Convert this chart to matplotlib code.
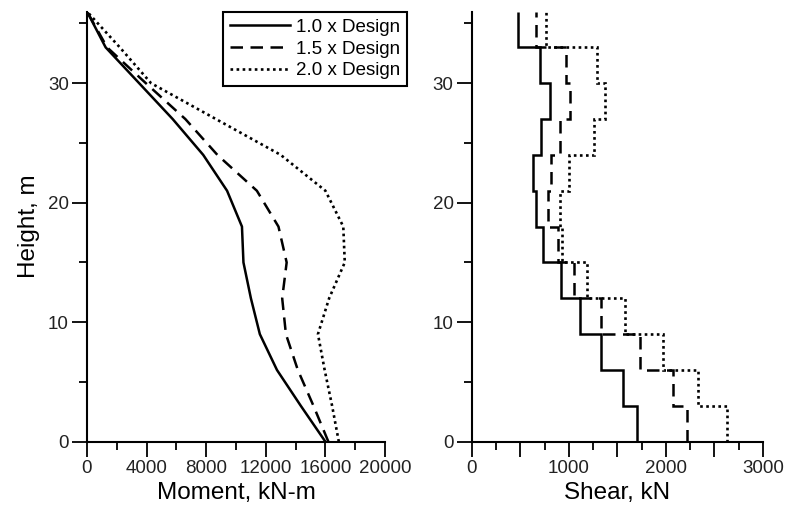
import matplotlib
matplotlib.use("Agg")
import matplotlib.pyplot as plt
import numpy as np

plt.rcParams['font.family'] = ['Liberation Sans', 'DejaVu Sans']

# Data
heights = [0, 3, 6, 9, 12, 15, 18, 21, 24, 27, 30, 33, 36]
moment_10 = [16000, 14350, 12750, 11600, 11000, 10500, 10400, 9400, 7800, 5750, 3500, 1250, 0]
moment_15 = [16200, 15200, 14150, 13350, 13100, 13400, 12850, 11400, 8750, 6600, 3950, 1350, 0]
moment_20 = [16900, 16450, 15950, 15500, 16250, 17300, 17200, 16000, 13000, 8650, 4300, 2200, 0]

# Story shear (story 1 at bottom ... story 12 at top)
shear_10 = [1700, 1560, 1330, 1120, 915, 730, 660, 630, 710, 805, 700, 475]
shear_15 = [2215, 2070, 1730, 1330, 1050, 885, 785, 815, 910, 1010, 970, 660]
shear_20 = [2630, 2330, 1965, 1575, 1185, 930, 905, 1000, 1260, 1370, 1290, 770]

labels = ['1.0 x Design', '1.5 x Design', '2.0 x Design']

W, H = 786, 513
fig = plt.figure(figsize=(W / 100, H / 100), dpi=100)

ax1 = fig.add_axes([87 / W, (H - 441.7) / H, 298 / W, 430.2 / H])
ax2 = fig.add_axes([471.7 / W, (H - 441.7) / H, 291.3 / W, 430.2 / H])

lw = 1.8
styles = [dict(color='black', lw=lw, linestyle='-'),
          dict(color='black', lw=lw, linestyle=(0, (5, 3))),
          dict(color='black', lw=1.9, linestyle=(0, (1, 1.3)))]

handles = []
for vals, st, lab in zip([moment_10, moment_15, moment_20], styles, labels):
    h, = ax1.plot(vals, heights, label=lab, **st)
    handles.append(h)

for vals, st in zip([shear_10, shear_15, shear_20], styles):
    ax2.stairs(vals, heights, orientation='horizontal', baseline=None, **st)

for ax in (ax1, ax2):
    ax.set_ylim(0, 36)
    ax.spines['top'].set_visible(False)
    ax.spines['right'].set_visible(False)
    ax.spines['left'].set_linewidth(1.5)
    ax.spines['bottom'].set_linewidth(1.5)
    ax.set_yticks([0, 10, 20, 30])
    ax.set_yticks([5, 15, 25, 35], minor=True)
    ax.tick_params(which='major', direction='out', length=11, width=1.3,
                   labelsize=13.5, pad=2)
    ax.tick_params(which='minor', direction='out', length=5.5, width=1.3)

ax1.set_xlim(0, 20000)
ax1.set_xticks([0, 4000, 8000, 12000, 16000, 20000])
ax1.set_xticks([2000, 6000, 10000, 14000, 18000], minor=True)
ax1.set_xlabel('Moment, kN-m', fontsize=17.5, labelpad=4)
ax1.set_ylabel('Height, m', fontsize=17.5, labelpad=6)

ax2.set_xlim(0, 3000)
ax2.set_xticks([0, 500, 1000, 1500, 2000, 2500, 3000])
ax2.set_xticklabels(['0', '', '1000', '', '2000', '', '3000'])
ax2.set_xticks([250, 750, 1250, 1750, 2250, 2750], minor=True)
ax2.set_xlabel('Shear, kN', fontsize=17.5, labelpad=4)

leg = fig.legend(handles=handles, labels=labels, loc='upper right',
                 bbox_to_anchor=(407 / W, 1 - 12 / H), bbox_transform=fig.transFigure,
                 fancybox=False, edgecolor='black', fontsize=13.5,
                 handlelength=3.2, handletextpad=0.35, borderpad=0.35,
                 labelspacing=0.25, borderaxespad=0, framealpha=1)
leg.get_frame().set_linewidth(1.5)

for ax in (ax1, ax2):
    for lab in ax.get_xticklabels() + ax.get_yticklabels():
        lab.set_color('#222222')

fig.savefig('out.png', dpi=100)
